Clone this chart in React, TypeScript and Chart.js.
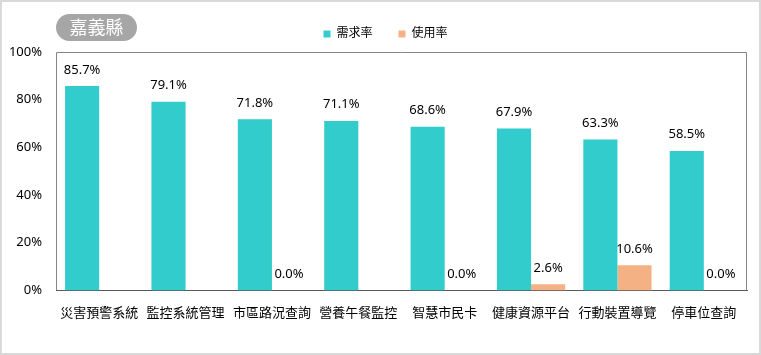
import { useEffect, useRef } from 'react';
import { Chart, registerables } from 'chart.js';

Chart.register(...registerables);

const chartTitle = '嘉義縣';
const categories = ['災害預警系統', '監控系統管理', '市區路況查詢', '營養午餐監控', '智慧市民卡', '健康資源平台', '行動裝置導覽', '停車位查詢'];
const seriesNames = ['需求率', '使用率'];
const demandRate = [85.7, 79.1, 71.8, 71.1, 68.6, 67.9, 63.3, 58.5];
const usageRate = [null, null, 0.0, null, 0.0, 2.6, 10.6, 0.0];
const yMin = 0;
const yMax = 100;
const yStep = 20;

const FONT = '"Noto Sans", "Noto Sans CJK TC", sans-serif';

const decorPlugin = {
  id: 'decor',
  beforeInit(chart: any) {
    const legend = chart.legend;
    if (legend) {
      const fit = legend.fit;
      legend.fit = function () {
        fit.call(this);
        this.height += 2;
      };
    }
  },
  afterLayout(chart: any) {
    const legend = chart.legend;
    if (legend) {
      legend.left += 8;
      legend.right += 8;
    }
  },
  beforeDraw(chart: any) {
    const { ctx, width, height } = chart;
    ctx.save();
    ctx.fillStyle = '#ffffff';
    ctx.fillRect(0, 0, width, height);
    ctx.strokeStyle = '#d9d9d9';
    ctx.lineWidth = 2;
    ctx.strokeRect(1, 1, width - 2, height - 2);
    ctx.restore();
  },
  beforeDatasetsDraw(chart: any) {
    const { ctx, chartArea } = chart;
    const l = Math.round(chartArea.left) + 0.5;
    const r = Math.round(chartArea.right) - 0.5;
    const t = Math.round(chartArea.top) + 0.5;
    const b = Math.round(chartArea.bottom);
    ctx.save();
    ctx.strokeStyle = '#868686';
    ctx.lineWidth = 1;
    ctx.beginPath();
    ctx.moveTo(l, b);
    ctx.lineTo(l, t);
    ctx.lineTo(r, t);
    ctx.lineTo(r, b);
    ctx.stroke();
    ctx.restore();
  },
  afterDatasetsDraw(chart: any) {
    const { ctx } = chart;
    ctx.save();
    ctx.font = '13px ' + FONT;
    ctx.fillStyle = '#000000';
    ctx.textAlign = 'center';
    ctx.textBaseline = 'alphabetic';
    chart.data.datasets.forEach((ds: any, i: number) => {
      const meta = chart.getDatasetMeta(i);
      meta.data.forEach((el: any, j: number) => {
        const v = ds.data[j];
        if (v === null || v === undefined) return;
        ctx.fillText(v.toFixed(1) + '%', el.x, el.y - 12.5);
      });
    });
    ctx.restore();
  },
  afterDraw(chart: any) {
    const { ctx } = chart;
    const x = 56, y = 14, w = 81, h = 27;
    ctx.save();
    ctx.fillStyle = '#a6a6a6';
    ctx.beginPath();
    ctx.roundRect(x, y, w, h, h / 2);
    ctx.fill();
    ctx.fillStyle = '#ffffff';
    ctx.font = '18px ' + FONT;
    ctx.textAlign = 'center';
    ctx.textBaseline = 'middle';
    ctx.fillText(chartTitle, x + w / 2, y + h / 2 + 1);
    ctx.restore();
  },
};

export default function App() {
  const ref = useRef<HTMLCanvasElement>(null);
  useEffect(() => {
    document.body.style.margin = '0';
    const canvas = ref.current;
    if (!canvas) return;
    const chart = new Chart(canvas, {
      type: 'bar',
      data: {
        labels: categories,
        datasets: [
          {
            label: seriesNames[0],
            data: demandRate,
            backgroundColor: '#33cccc',
            borderWidth: 0,
            categoryPercentage: 0.79,
            barPercentage: 1,
          },
          {
            label: seriesNames[1],
            data: usageRate as any,
            backgroundColor: '#f4b183',
            borderWidth: 0,
            categoryPercentage: 0.79,
            barPercentage: 1,
          },
        ],
      },
      options: {
        responsive: false,
        animation: false,
        devicePixelRatio: 1,
        layout: { padding: { left: 8, right: 14, top: 2, bottom: 19 } },
        plugins: {
          legend: {
            position: 'top',
            align: 'center',
            labels: {
              boxWidth: 7,
              boxHeight: 7,
              padding: 26,
              color: '#000000',
              font: { size: 12, family: FONT },
            },
          },
          tooltip: { enabled: false },
          title: { display: false },
        },
        scales: {
          x: {
            grid: { display: false, drawTicks: false },
            border: { display: true, color: '#595959', width: 1 },
            ticks: {
              color: '#000000',
              font: { size: 13, family: FONT },
              padding: 15,
              maxRotation: 0,
              autoSkip: false,
            },
          },
          y: {
            min: yMin,
            max: yMax,
            grid: { display: false, drawTicks: false },
            border: { display: false },
            ticks: {
              stepSize: yStep,
              color: '#000000',
              font: { size: 13, family: FONT },
              padding: 14,
              callback: (v: any) => v + '%',
            },
            afterFit: (scale: any) => {
              scale.width = 48;
            },
          },
        },
      },
      plugins: [decorPlugin],
    });
    return () => chart.destroy();
  }, []);
  return (
    <div style={{ width: 761, height: 355 }}>
      <canvas ref={ref} width={761} height={355} style={{ display: 'block', width: 761, height: 355 }} />
    </div>
  );
}
